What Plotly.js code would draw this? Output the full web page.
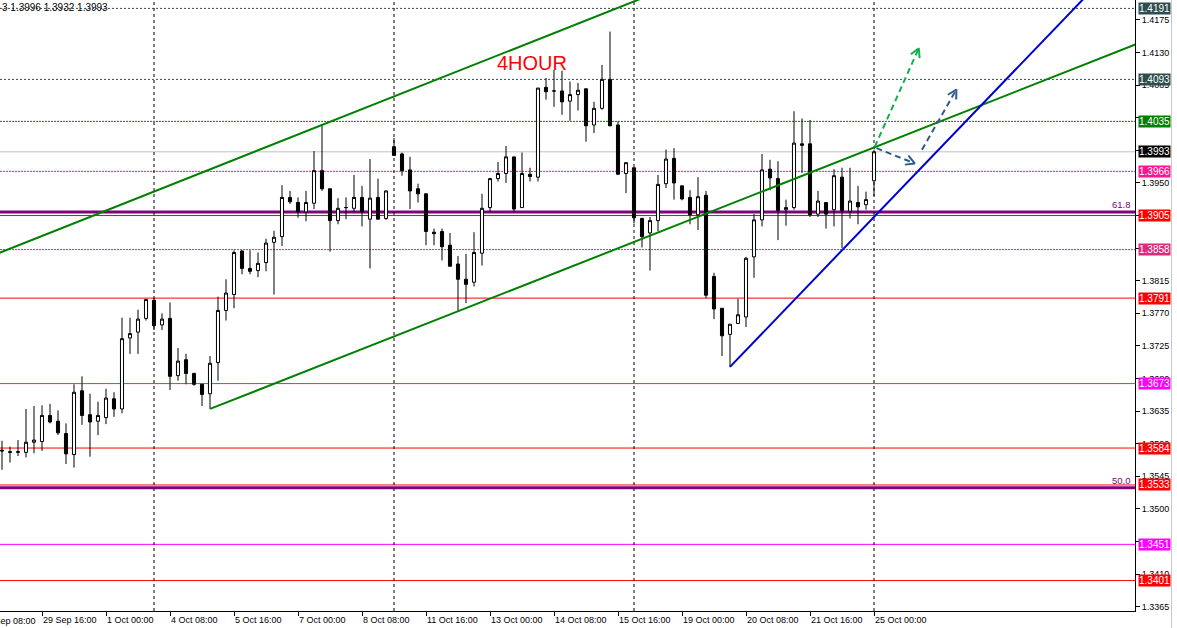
<!DOCTYPE html>
<html><head><meta charset="utf-8">
<script src="https://cdn.plot.ly/plotly-3.0.1.min.js"></script>
<style>html,body{margin:0;padding:0;background:#fff;overflow:hidden}#chart{width:1177px;height:628px}</style>
</head><body><div id="chart"></div>
<script>
// ---------- DATA (GBPUSD H4) ----------
const firstBarTime = '2021-09-28T20:00:00Z';
const openP = [1.3581,1.3579,1.3578,1.3578,1.3592,1.3593,1.3629,1.3621,1.3604,1.3575,
1.3663,1.3630,1.3621,1.3626,1.3652,1.3638,1.3736,1.3744,1.3763,1.3788,
1.3754,1.3763,1.3684,1.3706,1.3687,1.3672,1.3659,1.3702,1.3774,1.3796,
1.3856,1.3832,1.3829,1.3840,1.3868,1.3876,1.3930,1.3923,1.3910,1.3922,
1.3967,1.3942,1.3898,1.3916,1.3915,1.3930,1.3900,1.3930,1.3901,1.4000,
1.3990,1.3968,1.3942,1.3935,1.3882,1.3883,1.3864,1.3838,1.3817,1.3813,
1.3853,1.3916,1.3956,1.3963,1.3986,1.3916,1.3962,1.3958,1.4082,1.4077,
1.4077,1.4063,1.4072,1.4080,1.4030,1.4053,1.4093,1.4030,1.3963,1.3971,
1.3901,1.3881,1.3898,1.3949,1.3984,1.3946,1.3930,1.3906,1.3933,1.3821,
1.3777,1.3741,1.3756,1.3765,1.3848,1.3899,1.3969,1.3956,1.3913,1.3916,
1.4004,1.4004,1.3907,1.3923,1.3913,1.3958,1.3911,1.3923,1.3920,1.3953];
const highP = [1.3594,1.3586,1.3595,1.3638,1.3642,1.3643,1.3645,1.3636,1.3618,1.3672,
1.3683,1.3659,1.3648,1.3666,1.3661,1.3764,1.3764,1.3775,1.3790,1.3791,
1.3770,1.3785,1.3722,1.3714,1.3688,1.3672,1.3711,1.3793,1.3817,1.3857,
1.3857,1.3857,1.3854,1.3873,1.3884,1.3947,1.3939,1.3930,1.3939,1.3994,
1.4030,1.3942,1.3929,1.3930,1.3961,1.3946,1.3983,1.3956,1.3939,1.4012,
1.3992,1.3986,1.3949,1.3935,1.3887,1.3887,1.3881,1.3849,1.3852,1.3882,
1.3935,1.3957,1.3979,1.4001,1.3986,1.3992,1.3971,1.4081,1.4095,1.4106,
1.4105,1.4090,1.4088,1.4080,1.4062,1.4113,1.4159,1.4035,1.3978,1.3971,
1.3902,1.3903,1.3961,1.3996,1.3998,1.3946,1.3940,1.3958,1.3939,1.3826,
1.3777,1.3755,1.3790,1.3848,1.3907,1.3990,1.3982,1.3980,1.3927,1.4049,
1.4039,1.4037,1.3939,1.3923,1.3969,1.3971,1.3971,1.3946,1.3938,1.3996];
const lowP = [1.3554,1.3564,1.3573,1.3571,1.3577,1.3580,1.3618,1.3602,1.3562,1.3557,
1.3616,1.3572,1.3602,1.3617,1.3627,1.3632,1.3714,1.3714,1.3760,1.3747,
1.3747,1.3664,1.3677,1.3672,1.3670,1.3642,1.3638,1.3677,1.3760,1.3777,
1.3824,1.3824,1.3820,1.3828,1.3796,1.3863,1.3921,1.3902,1.3897,1.3914,
1.3939,1.3855,1.3893,1.3900,1.3910,1.3890,1.3832,1.3900,1.3899,1.3988,
1.3960,1.3914,1.3923,1.3864,1.3864,1.3843,1.3835,1.3772,1.3784,1.3807,
1.3836,1.3910,1.3952,1.3950,1.3910,1.3916,1.3952,1.3952,1.4065,1.4055,
1.4044,1.4036,1.4050,1.4007,1.4019,1.4051,1.4028,1.3962,1.3936,1.3894,
1.3861,1.3829,1.3883,1.3943,1.3927,1.3926,1.3893,1.3885,1.3791,1.3762,
1.3711,1.3696,1.3756,1.3751,1.3819,1.3890,1.3940,1.3871,1.3891,1.3913,
1.3964,1.3903,1.3903,1.3887,1.3890,1.3860,1.3901,1.3893,1.3913,1.3932];
const closeP = [1.3580,1.3578,1.3579,1.3592,1.3595,1.3629,1.3620,1.3605,1.3576,1.3661,
1.3629,1.3620,1.3629,1.3653,1.3638,1.3735,1.3742,1.3762,1.3789,1.3753,
1.3762,1.3683,1.3704,1.3687,1.3672,1.3658,1.3701,1.3774,1.3798,1.3854,
1.3832,1.3828,1.3839,1.3867,1.3875,1.3930,1.3924,1.3910,1.3923,1.3967,
1.3942,1.3898,1.3915,1.3916,1.3930,1.3910,1.3929,1.3900,1.3939,1.3988,
1.3967,1.3939,1.3935,1.3883,1.3880,1.3862,1.3835,1.3817,1.3810,1.3854,
1.3915,1.3956,1.3963,1.3986,1.3914,1.3963,1.3959,1.4081,1.4076,1.4077,
1.4062,1.4072,1.4078,1.4029,1.4053,1.4093,1.4029,1.3962,1.3978,1.3902,
1.3876,1.3898,1.3948,1.3983,1.3950,1.3928,1.3906,1.3931,1.3795,1.3776,
1.3739,1.3755,1.3768,1.3846,1.3899,1.3968,1.3957,1.3912,1.3916,1.4005,
1.4002,1.3906,1.3925,1.3907,1.3960,1.3912,1.3925,1.3917,1.3927,1.3993];

const xTickLabels = ['29 Sep 16:00','1 Oct 00:00','4 Oct 08:00','5 Oct 16:00','7 Oct 00:00','8 Oct 08:00',
'11 Oct 16:00','13 Oct 00:00','14 Oct 08:00','15 Oct 16:00','19 Oct 00:00','20 Oct 08:00','21 Oct 16:00','25 Oct 00:00'];
const clippedLeftLabel = '28 Sep 08:00';
const priceTicks = [1.3365,1.3410,1.3455,1.3500,1.3545,1.3590,1.3635,1.3680,1.3725,1.3770,1.3815,
1.3860,1.3905,1.3950,1.3995,1.4040,1.4085,1.4130,1.4175];
const levelPrices = [1.4191,1.4093,1.4035,1.3993,1.3966,1.3905,1.3858,1.3791,1.3673,1.3584,1.3533,1.3451,1.3401];
const fibNames = ['61.8','50.0'];
const fibPrices = [1.3910,1.3529];
const headerText = '3 1.3996 1.3932 1.3993';
const titleText = '4HOUR';
// trend line anchors: [bar index, price]
const channelUpperA = [0, 1.3855], channelUpperB = [40, 1.4030];
const channelLowerA = [26, 1.3638], channelLowerB = [109, 1.3999];
const supportA = [91, 1.3696], supportB = [109, 1.3903];
// projection arrows: tail -> tip  [bar, price]
const greenArrow = [[109.1, 1.4000], [114.6, 1.4136]];
const blueArrow1 = [[109.3, 1.3998], [114.1, 1.3977]];
const blueArrow2 = [[115.0, 1.3996], [119.3, 1.4079]];

// ---------- STYLES ----------
const FONT = 'Liberation Sans, Arial, sans-serif';
const levelLine = ['#2F4F4F','#2F4F4F','#008000','#C0C0C0','#FF1493','#FF0000','#E0287F','#FF0000','#FF00FF','#FF0000','#FF0000','#FF00FF','#FF0000'];
const levelDash = ['2px,2px','2px,2px','2px,1px','solid','2px,1px','solid','2px,1px','solid','solid','solid','solid','solid','solid'];
const levelBg = ['#2F4F4F','#2F4F4F','#008000','#000000','#FF1493','#FF0000','#E0287F','#FF0000','#FF00FF','#FF0000','#FF0000','#FF00FF','#FF0000'];

// ---------- BUILD ----------
const months = ['Jan','Feb','Mar','Apr','May','Jun','Jul','Aug','Sep','Oct','Nov','Dec'];
const barTimes = [], barDow = [], barHour = [];
let t = new Date(firstBarTime);
while (barTimes.length < openP.length) {
  const d = t.getUTCDay();
  if (d !== 0 && d !== 6) {
    barTimes.push(t.getUTCDate()+' '+months[t.getUTCMonth()]+' '+String(t.getUTCHours()).padStart(2,'0')+':00');
    barDow.push(d); barHour.push(t.getUTCHours());
  }
  t = new Date(t.getTime() + 4*3600e3);
}
const idx = openP.map((_, i) => i);
const tickvals = xTickLabels.map(l => barTimes.indexOf(l));

const xMin = -0.25, xMax = 141.625;
const yMin = 1.3359, yMax = 1.42026;
const plotW = 1135, plotH = 611;
const pxBar = plotW/(xMax-xMin), pxPrice = plotH/(yMax-yMin);

// tick labels completely covered by a price label box are not drawn (as in the terminal)
const yTickText = priceTicks.map(v => levelPrices.some(p => Math.abs(p - v)*pxPrice < 4) ? '' : v.toFixed(4));

function ray(A, B, fromStart) {
  const s = (B[1]-A[1])/(B[0]-A[0]);
  const x0 = fromStart ? A[0] : xMin - 1;
  const x1 = xMax + 1;
  return {x:[x0, x1], y:[A[1] + s*(x0-A[0]), A[1] + s*(x1-A[0])]};
}
function head(tail, tip, len, ang) {
  const dx = (tip[0]-tail[0])*pxBar, dy = -(tip[1]-tail[1])*pxPrice;
  const L = Math.hypot(dx, dy), ux = dx/L, uy = dy/L;
  const pts = [];
  [ang, -ang].forEach(a => {
    const rx = ux*Math.cos(a) - uy*Math.sin(a), ry = ux*Math.sin(a) + uy*Math.cos(a);
    pts.push([tip[0] - rx*len/pxBar, tip[1] + ry*len/pxPrice]);
  });
  return {x:[pts[0][0], tip[0], pts[1][0]], y:[pts[0][1], tip[1], pts[1][1]]};
}

const traces = [];
traces.push({
  type:'candlestick', x:idx, open:openP, high:highP, low:lowP, close:closeP,
  increasing:{line:{color:'#000', width:1}, fillcolor:'#FFFFFF'},
  decreasing:{line:{color:'#000', width:1}, fillcolor:'#000000'},
  whiskerwidth:0, hoverinfo:'skip'
});
function line(obj, color, width, dash) {
  traces.push({type:'scatter', mode:'lines', x:obj.x, y:obj.y, line:{color, width, dash:dash||'solid'}, hoverinfo:'skip', cliponaxis:true});
}
line(ray(channelUpperA, channelUpperB, false), '#008000', 2);
line(ray(channelLowerA, channelLowerB, true), '#008000', 2);
line(ray(supportA, supportB, true), '#0000CD', 2);
const arrows = [[greenArrow, '#12B04E'], [blueArrow1, '#2F5B8A'], [blueArrow2, '#2F5B8A']];
arrows.forEach(([a, c]) => {
  line({x:[a[0][0], a[1][0]], y:[a[0][1], a[1][1]]}, c, 2, '6px,4px');
  line(head(a[0], a[1], 10, 0.5), c, 2);
});

const shapes = [];
levelPrices.forEach((p, i) => shapes.push({type:'line', xref:'paper', x0:0, x1:1, yref:'y', y0:p, y1:p, layer:'below',
  line:{color:levelLine[i], width:1, dash:levelDash[i]}}));
fibPrices.forEach(p => shapes.push({type:'line', xref:'paper', x0:0, x1:1, yref:'y', y0:p, y1:p, layer:'below',
  line:{color:'#800080', width:3}}));
barTimes.forEach((s, i) => {
  if (barDow[i] === 1 && barHour[i] === 0)
    shapes.push({type:'line', xref:'x', x0:i, x1:i, yref:'paper', y0:0, y1:1, layer:'below', line:{color:'#000', width:1, dash:'3px,3px'}});
});
// terminal window edge on the far right
shapes.push({type:'line', xref:'paper', x0:1171.5/plotW, x1:1171.5/plotW, yref:'paper', y0:-17/plotH, y1:1, line:{color:'#C8C8C8', width:1}});

const annotations = [];
levelPrices.forEach((p, i) => annotations.push({xref:'paper', x:1, xanchor:'left', xshift:3, yref:'y', y:p, yanchor:'middle',
  text:p.toFixed(4), showarrow:false, bgcolor:levelBg[i], borderpad:0, font:{family:FONT, size:10, color:'#FFFFFF'}}));
fibPrices.forEach((p, i) => annotations.push({xref:'paper', x:1, xanchor:'right', xshift:-2, yref:'y', y:p, yanchor:'bottom', yshift:0,
  text:fibNames[i], showarrow:false, font:{family:FONT, size:9.5, color:'#800080'}}));
annotations.push({xref:'paper', x:0, xanchor:'left', xshift:0, yref:'paper', y:1, yanchor:'top', yshift:0,
  text:headerText, showarrow:false, font:{family:FONT, size:10, color:'#000'}});
annotations.push({xref:'x', x:66.25, yref:'y', y:1.4116, xanchor:'center', yanchor:'middle',
  text:titleText, showarrow:false, font:{family:FONT, size:20, color:'#FF0000'}});
annotations.push({xref:'paper', x:0, xanchor:'left', xshift:-20.5, yref:'paper', y:0, yanchor:'top', yshift:-3,
  text:clippedLeftLabel, showarrow:false, font:{family:FONT, size:9, color:'#000'}});

const layout = {
  width:1177, height:628, margin:{l:0, r:42, t:0, b:17, pad:0},
  paper_bgcolor:'#FFFFFF', plot_bgcolor:'#FFFFFF', showlegend:false, hovermode:false, boxgap:0.45,
  xaxis:{range:[xMin, xMax], rangeslider:{visible:false}, showgrid:false, zeroline:false, showline:true, linecolor:'#000', linewidth:1, mirror:true,
    ticks:'outside', ticklen:4, tickcolor:'#000', tickmode:'array', tickvals:tickvals, ticktext:xTickLabels,
    ticklabelposition:'outside right', tickfont:{family:FONT, size:9, color:'#000'}, fixedrange:true},
  yaxis:{side:'right', range:[yMin, yMax], showgrid:false, zeroline:false, showline:true, linecolor:'#000', linewidth:1,
    ticks:'outside', ticklen:4, tickcolor:'#000', tickmode:'array', tickvals:priceTicks, ticktext:yTickText,
    tickfont:{family:FONT, size:9, color:'#000'}, fixedrange:true},
  shapes, annotations
};
Plotly.newPlot('chart', traces, layout, {staticPlot:true, displayModeBar:false});
</script></body></html>
